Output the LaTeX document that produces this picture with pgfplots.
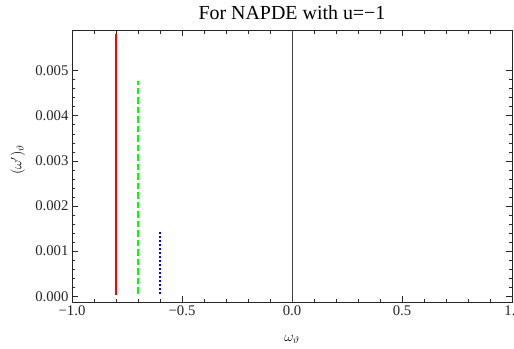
\documentclass[border=0pt]{standalone}
\usepackage{pgfplots}
\pgfplotsset{compat=1.18}
\usepackage{fontspec}
\setmainfont{Liberation Serif}
\begin{document}
\begin{tikzpicture}
\begin{axis}[
  scale only axis,
  width=440bp, height=272bp,
  xmin=-1, xmax=1,
  ymin=-0.000126, ymax=0.0059,
  xtick={-1,-0.5,0,0.5,1},
  xticklabels={−1.0,−0.5,0.0,0.5,\hspace{-4bp}1.},
  ytick={0,0.001,0.002,0.003,0.004,0.005},
  scaled y ticks=false,
  yticklabel style={/pgf/number format/.cd, fixed, fixed zerofill, precision=3},
  /pgf/number format/assume math mode=true,
  minor x tick num=4,
  minor y tick num=4,
  tick align=inside,
  major tick length=6bp,
  minor tick length=3.5bp,
  axis line style={black!85, line width=0.9bp},
  every tick/.style={black!85, line width=0.6bp},
  tick label style={font=\fontsize{14.8}{16}\selectfont, black!85},
  title={For NAPDE with u=−1},
  title style={at={(axis description cs:0.5,1.018)}, anchor=base, font=\fontsize{20}{22}\selectfont, inner sep=0pt},
  xlabel={$\omega_\vartheta$},
  xlabel style={at={(axis description cs:0.5,-0.145)}, anchor=base, font=\fontsize{14.5}{16}\selectfont, inner sep=0pt},
  ylabel={$(\omega')_\vartheta$},
  ylabel style={at={(axis description cs:-0.123,0.522)}, anchor=center, font=\fontsize{14.5}{16}\selectfont, inner sep=0pt},
]
\addplot[black!75, line width=0.8bp] coordinates {(0,-0.000126) (0,0.0059)};
\addplot[red, line width=1.6bp] coordinates {(-0.8,0.00002) (-0.8,0.00581)};
\addplot[green, line width=1.6bp, dash pattern=on 6.5bp off 3bp] coordinates {(-0.7,0.00006) (-0.7,0.00477)};
\addplot[blue, line width=1.8bp, dash pattern=on 2bp off 2bp] coordinates {(-0.6,0.00006) (-0.6,0.00146)};
\end{axis}
\pgfresetboundingbox
\path ([xshift=-72bp,yshift=-47bp]current axis.south west) rectangle ([xshift=2bp,yshift=30bp]current axis.north east);
\end{tikzpicture}
\end{document}
